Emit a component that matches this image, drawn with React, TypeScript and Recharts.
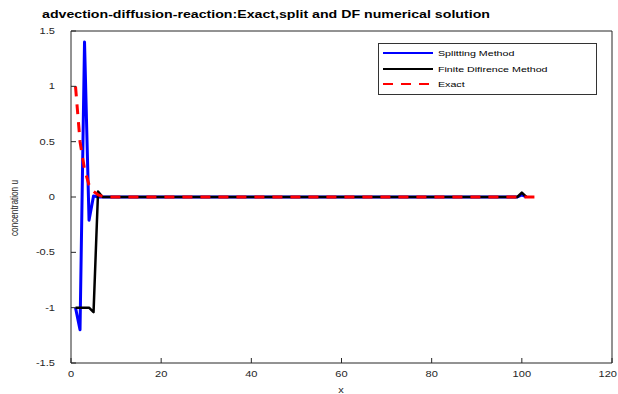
import React from 'react';
import { LineChart, Line, XAxis, YAxis, ReferenceLine, Legend, Customized } from 'recharts';

const xValues = [1, 2, 3, 4, 5, 6, 7, 8, 99, 100, 101, 103];
const splittingValues = [-1, -1.2, 1.4, -0.21, 0.01, 0, 0, 0, 0, 0.02, 0, null];
const finiteDiffValues = [-1, -1, -1, -1, -1.04, 0.05, 0, 0, 0, 0.04, 0, null];
const exactValues = [1.0, 0.5, 0.25, 0.11, 0.05, 0.02, 0.005, 0, 0, 0, 0, 0];
const xTicks = [0, 20, 40, 60, 80, 100, 120];
const yTicks = [-1.5, -1, -0.5, 0, 0.5, 1, 1.5];
const seriesNames = ['Splitting Method', 'Finite Difirence Method', 'Exact'];
const seriesKeys = ['split', 'fd', 'exact'];
const seriesColors = ['#0000ff', '#000000', '#ff0000'];
const seriesDash = [undefined, undefined, '10 8'];
const seriesWidths = [3, 2.5, 3];
const titleText = 'advection-diffusion-reaction:Exact,split and DF numerical solution';
const xLabel = 'x';
const yLabel = 'concentration u';

const data = xValues.map((x, i) => ({
  x,
  split: splittingValues[i],
  fd: finiteDiffValues[i],
  exact: exactValues[i],
}));

const FONT = '"Liberation Sans", Arial, Helvetica, sans-serif';
const AXIS = '#262626';
const STRETCH = 1.35;

const SText = (p: any) => {
  const { x, y, anchor = 'start', size = 8.2, weight = 'normal', fill = AXIS, rotate = 0, children } = p;
  return (
    <text
      transform={`translate(${x} ${y}) scale(${STRETCH} 1)${rotate ? ` rotate(${rotate})` : ''}`}
      x={0}
      y={0}
      textAnchor={anchor}
      fontFamily={FONT}
      fontSize={size}
      fontWeight={weight}
      fill={fill}
    >
      {children}
    </text>
  );
};

const YTick = (props: any) => {
  const { x, y, payload } = props;
  return (
    <g>
      <line x1={x + 16} x2={x + 21} y1={y} y2={y} stroke={AXIS} strokeWidth={1} />
      <SText x={x} y={y + 3} anchor="end">
        {String(payload.value)}
      </SText>
    </g>
  );
};

const XTick = (props: any) => {
  const { x, y, payload } = props;
  const last = payload.value === xTicks[xTicks.length - 1];
  return (
    <g>
      <line x1={x} x2={x} y1={y - 8} y2={y - 13} stroke={AXIS} strokeWidth={1} />
      <SText x={last ? 617 : x} y={y + 6.2} anchor={last ? 'end' : 'middle'}>
        {String(payload.value)}
      </SText>
    </g>
  );
};

const renderLegend = () => (
  <svg width={219} height={52} style={{ display: 'block' }}>
    <rect x={0.5} y={0.5} width={218} height={51} fill="#fff" stroke="#333" strokeWidth={1} />
    {seriesNames.map((name, i) => {
      const cy = [10, 26, 41][i];
      return (
        <g key={name}>
          <line
            x1={5}
            x2={55}
            y1={cy}
            y2={cy}
            stroke={seriesColors[i]}
            strokeWidth={2.2}
            strokeDasharray={seriesDash[i]}
          />
          <SText x={60} y={cy + 3} size={7.9} fill="#000">
            {name}
          </SText>
        </g>
      );
    })}
  </svg>
);

const Texts = () => (
  <g>
    <SText x={42} y={18.3} size={10.5} weight="bold" fill="#000">
      {titleText}
    </SText>
    <SText x={341} y={392.5} anchor="middle">
      {xLabel}
    </SText>
    <SText x={18} y={208} anchor="middle" rotate={-90}>
      {yLabel}
    </SText>
  </g>
);

export default function App() {
  return (
    <div style={{ position: 'absolute', left: 0, top: 0, width: 618, height: 394, background: '#fff' }}>
      <LineChart width={618} height={394} data={data} margin={{ top: 31, right: 6, bottom: 0, left: 0 }}>
        <XAxis
          dataKey="x"
          type="number"
          domain={[0, 120]}
          ticks={xTicks}
          height={31}
          tickSize={0}
          tickMargin={8}
          tickLine={false}
          axisLine={{ stroke: AXIS, strokeWidth: 1 }}
          tick={<XTick />}
          interval={0}
          allowDataOverflow
        />
        <YAxis
          type="number"
          domain={[-1.5, 1.5]}
          ticks={yTicks}
          width={71}
          tickSize={0}
          tickMargin={16}
          tickLine={false}
          axisLine={{ stroke: AXIS, strokeWidth: 1 }}
          tick={<YTick />}
          interval={0}
          allowDataOverflow
        />
        <ReferenceLine y={1.5} stroke={AXIS} strokeWidth={1} />
        <ReferenceLine x={120} stroke={AXIS} strokeWidth={1} />
        {seriesKeys.map((k, i) => (
          <Line
            key={k}
            type="linear"
            dataKey={k}
            name={seriesNames[i]}
            stroke={seriesColors[i]}
            strokeWidth={seriesWidths[i]}
            strokeDasharray={seriesDash[i]}
            dot={false}
            activeDot={false}
            isAnimationActive={false}
            strokeLinejoin="round"
          />
        ))}
        <Legend
          layout="vertical"
          align="center"
          verticalAlign="middle"
          content={renderLegend}
          wrapperStyle={{ position: 'absolute', left: 378, top: 43, width: 219, height: 52 }}
        />
        <Customized component={Texts} />
      </LineChart>
    </div>
  );
}
